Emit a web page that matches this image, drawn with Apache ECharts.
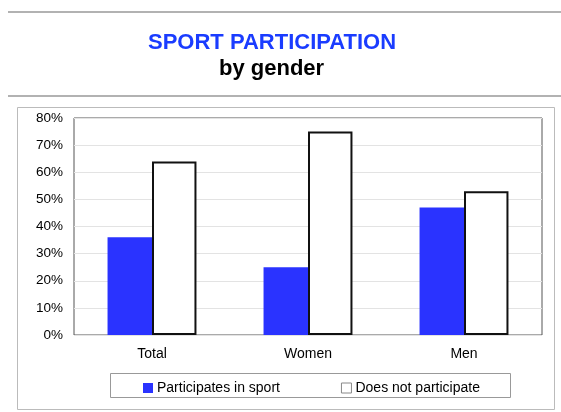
<!DOCTYPE html>
<html>
<head>
<meta charset="utf-8">
<script src="https://cdn.jsdelivr.net/npm/echarts@6/dist/echarts.min.js"></script>
<style>
  html, body { margin: 0; padding: 0; background: #fff; }
  #chart { width: 561px; height: 412px; }
</style>
</head>
<body>
<div id="chart"></div>
<script>
  // data
  var categories = ['Total', 'Women', 'Men'];
  var participates = [36, 25, 47];
  var notParticipate = [64, 75, 53];
  var seriesNames = ['Participates in sport', 'Does not participate'];

  var chart = echarts.init(document.getElementById('chart'));
  var font = 'Liberation Sans, Arial, Helvetica, sans-serif';

  chart.setOption({
    backgroundColor: '#fff',
    animation: false,
    textStyle: { fontFamily: font },
    title: [
      {
        text: 'SPORT PARTICIPATION',
        left: 143, top: 27,
        textStyle: { color: '#1a3cff', fontSize: 22, fontWeight: 'bold', fontFamily: font }
      },
      {
        text: 'by gender',
        left: 214, top: 53,
        textStyle: { color: '#000', fontSize: 22, fontWeight: 'bold', fontFamily: font }
      }
    ],
    graphic: [
      // header rules
      { type: 'line', shape: { x1: 8, y1: 12, x2: 561, y2: 12 }, style: { stroke: '#999', lineWidth: 1.5 } },
      { type: 'line', shape: { x1: 8, y1: 96, x2: 561, y2: 96 }, style: { stroke: '#999', lineWidth: 1.5 } },
      // outer chart frame
      { type: 'rect', shape: { x: 17.5, y: 107.5, width: 537, height: 302 }, style: { fill: null, stroke: '#bbb', lineWidth: 1 }, z: -1 },
      // legend frame
      { type: 'rect', shape: { x: 110.5, y: 373.5, width: 400, height: 24 }, style: { fill: null, stroke: '#999', lineWidth: 1 }, z: -1 }
    ],
    legend: {
      top: 381,
      left: 143,
      padding: 0,
      itemGap: 61,
      itemWidth: 10,
      itemHeight: 10,
      icon: 'rect',
      textStyle: { fontSize: 14, color: '#000', fontFamily: font, padding: [0, 0, 0, -1] },
      data: [
        { name: seriesNames[0], itemStyle: { color: '#2a33ff', borderWidth: 0 } },
        { name: seriesNames[1], itemStyle: { color: '#fff', borderColor: '#888', borderWidth: 1 } }
      ]
    },
    grid: { left: 74, right: 19, top: 118, bottom: 77, show: true, borderColor: '#555', borderWidth: 1 },
    xAxis: {
      type: 'category',
      data: categories,
      axisLine: { show: false },
      axisTick: { show: false },
      axisLabel: { color: '#000', fontSize: 14, margin: 12, fontFamily: font }
    },
    yAxis: {
      type: 'value',
      min: 0, max: 80, interval: 10,
      axisLine: { show: false },
      axisTick: { show: false },
      splitLine: { lineStyle: { color: '#e3e3e3' } },
      axisLabel: { color: '#000', fontSize: 13.5, margin: 11, formatter: '{value}%', fontFamily: font }
    },
    series: [
      {
        name: seriesNames[0], type: 'bar', data: participates,
        barGap: '0%', barCategoryGap: '43%',
        itemStyle: { color: '#2a33ff' }
      },
      {
        name: seriesNames[1], type: 'bar', data: notParticipate,
        itemStyle: { color: '#fff', borderColor: '#111', borderWidth: 2 }
      }
    ]
  });
</script>
</body>
</html>
